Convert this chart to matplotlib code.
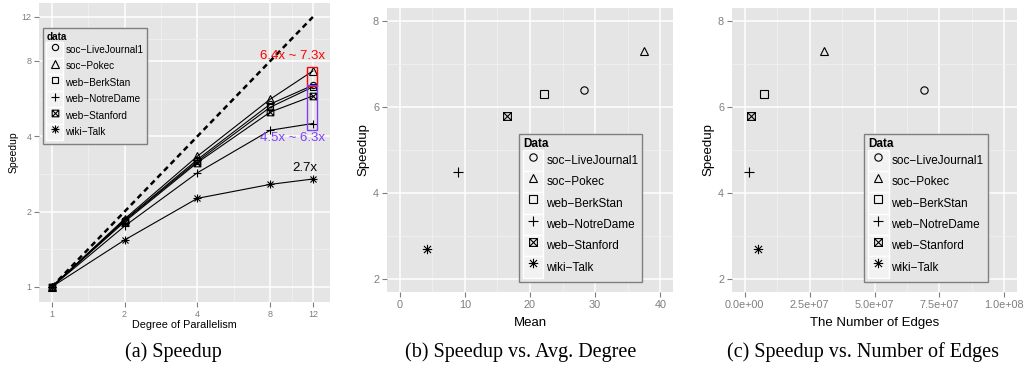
import matplotlib
matplotlib.use("Agg")
import matplotlib.pyplot as plt
import numpy as np
from matplotlib.path import Path
from matplotlib.lines import Line2D
from matplotlib.patches import Rectangle
from matplotlib.legend_handler import HandlerLine2D
from matplotlib.ticker import FixedLocator, FuncFormatter

plt.rcParams['font.family'] = ['Liberation Sans', 'DejaVu Sans']

# ---------------- data ----------------
datasets = ["soc-LiveJournal1", "soc-Pokec", "web-BerkStan", "web-NotreDame", "web-Stanford", "wiki-Talk"]
labels = ["soc\u2212LiveJournal1", "soc\u2212Pokec", "web\u2212BerkStan", "web\u2212NotreDame", "web\u2212Stanford", "wiki\u2212Talk"]
parallelism = [1, 2, 4, 8, 12]
speedup_lj = [1.0, 1.85, 3.23, 5.38, 6.4]
speedup_pokec = [1.0, 1.87, 3.33, 5.63, 7.3]
speedup_berk = [1.0, 1.84, 3.18, 5.23, 6.3]
speedup_notre = [1.0, 1.75, 2.86, 4.23, 4.5]
speedup_stan = [1.0, 1.82, 3.14, 5.0, 5.8]
speedup_wiki = [1.0, 1.54, 2.26, 2.57, 2.7]
speedups = [speedup_lj, speedup_pokec, speedup_berk, speedup_notre, speedup_stan, speedup_wiki]
ideal = [1, 12]

avg_degree = [28.3, 37.5, 22.2, 9.0, 16.4, 4.2]
num_edges = [6.9e7, 3.06e7, 7.6e6, 1.5e6, 2.31e6, 5.02e6]
final_speedup = [6.4, 7.3, 6.3, 4.5, 5.8, 2.7]

# annotations (panel a)
red_range = (6.4, 7.3)
blue_range = (4.5, 6.3)
wiki_final = 2.7

# ---------------- markers ----------------
boxx = Path([(-1, -1), (1, -1), (1, 1), (-1, 1), (-1, -1), (-1, -1), (1, 1), (-1, 1), (1, -1)],
            [Path.MOVETO, Path.LINETO, Path.LINETO, Path.LINETO, Path.CLOSEPOLY,
             Path.MOVETO, Path.LINETO, Path.MOVETO, Path.LINETO])
d = 0.75
aster = Path([(-1, 0), (1, 0), (0, -1), (0, 1), (-d, -d), (d, d), (-d, d), (d, -d)],
             [Path.MOVETO, Path.LINETO] * 4)
markers = ['o', '^', 's', '+', boxx, aster]
msize = [5.3, 6.0, 5.6, 7.5, 5.6, 6.8]

BG = '#E5E5E5'
GRAY = '#7F7F7F'
PURPLE = '#7F3FF5'

class KeyHandler(HandlerLine2D):
    def create_artists(self, legend, orig_handle, xdescent, ydescent, width, height, fontsize, trans):
        rect = Rectangle((-xdescent, -ydescent), width, height, facecolor='#F2F2F2',
                         edgecolor='white', lw=1.0, transform=trans)
        arts = super().create_artists(legend, orig_handle, xdescent, ydescent, width, height, fontsize, trans)
        return [rect] + arts

def style_axes(ax, tick_fs):
    ax.set_facecolor(BG)
    for s in ax.spines.values():
        s.set_visible(False)
    ax.set_axisbelow(True)
    ax.grid(which='major', color='white', lw=1.1)
    ax.grid(which='minor', color='#F2F2F2', lw=0.5)
    ax.tick_params(which='major', color=GRAY, labelcolor=GRAY, length=3.5, width=0.8,
                   labelsize=tick_fs, pad=2)
    ax.tick_params(which='minor', length=0)

def add_legend(ax, title, fs, anchor, loc, scale=1.0, hlen=1.7, hh=2.3):
    handles = [Line2D([], [], ls='none', marker=m, ms=s * scale, mfc='none', mec='black', mew=0.8)
               for m, s in zip(markers, msize)]
    leg = ax.legend(handles, labels, title=title, loc=loc, bbox_to_anchor=anchor,
                    fontsize=fs, title_fontproperties={'weight': 'bold', 'size': fs},
                    frameon=True, fancybox=False, numpoints=1, labelspacing=0.0,
                    handlelength=hlen, handleheight=hh, handletextpad=0.25,
                    borderpad=0.35, borderaxespad=0.0,
                    handler_map={Line2D: KeyHandler()})
    leg._legend_box.align = 'left'
    fr = leg.get_frame()
    fr.set_facecolor(BG)
    fr.set_edgecolor(GRAY)
    fr.set_linewidth(1.0)
    fr.set_alpha(1)
    return leg

fig = plt.figure(figsize=(10.29, 3.73), dpi=100)

# ---------------- panel (a) ----------------
axa = fig.add_axes([39 / 1029, 71 / 373, 291 / 1029, 299 / 373])
axa.set_xscale('log', base=2)
axa.set_yscale('log', base=2)
axa.set_xlim(2 ** -0.174, 2 ** 3.82)
axa.set_ylim(2 ** -0.2, 2 ** 3.77)
style_axes(axa, 6.5)
axa.xaxis.set_major_locator(FixedLocator(parallelism))
axa.yaxis.set_major_locator(FixedLocator(parallelism))
axa.xaxis.set_major_formatter(FuncFormatter(lambda v, p: f"{v:g}"))
axa.yaxis.set_major_formatter(FuncFormatter(lambda v, p: f"{v:g}"))
mids = [np.sqrt(a * b) for a, b in zip(parallelism[:-1], parallelism[1:])]
axa.xaxis.set_minor_locator(FixedLocator(mids))
axa.yaxis.set_minor_locator(FixedLocator(mids))
axa.xaxis.set_minor_formatter(FuncFormatter(lambda v, p: ""))
axa.yaxis.set_minor_formatter(FuncFormatter(lambda v, p: ""))

axa.plot(ideal, ideal, color='black', ls=(0, (2.2, 1.6)), lw=1.8, zorder=2)
for sp, m, s in zip(speedups, markers, msize):
    axa.plot(parallelism, sp, color='black', lw=0.8, marker=m, ms=s * 0.85,
             mfc='none', mec='black', mew=0.8, zorder=3)

xr = (11.4, 12.45)
axa.add_patch(Rectangle((xr[0], red_range[0] * 0.99), xr[1] - xr[0], red_range[1] * 1.04 - red_range[0] * 0.99,
                        facecolor='none', edgecolor='#FF0000', lw=1.0, zorder=4))
axa.add_patch(Rectangle((xr[0], blue_range[0] * 0.94), xr[1] - xr[0], blue_range[1] * 1.02 - blue_range[0] * 0.94,
                        facecolor='none', edgecolor=PURPLE, lw=1.0, zorder=4))
axa.text(9.9, 8.4, f"{red_range[0]}x ~ {red_range[1]}x", color='#FF0000', fontsize=9.5,
         ha='center', va='center', zorder=5)
axa.text(9.9, 3.93, f"{blue_range[0]}x ~ {blue_range[1]}x", color=PURPLE, fontsize=9.5,
         ha='center', va='center', zorder=5)
axa.text(11.1, 3.0, f"{wiki_final}x", color='black', fontsize=9.5, ha='center', va='center', zorder=5)

axa.set_xlabel("Degree of Parallelism", fontsize=7.8, labelpad=1)
axa.set_ylabel("Speedup", fontsize=7.5, labelpad=2)
add_legend(axa, "data", 7.2, (0.0137, 0.916), 'upper left', scale=0.85, hlen=1.65, hh=2.15)

# ---------------- panel (b) ----------------
axb = fig.add_axes([386.7 / 1029, 81 / 373, 286.6 / 1029, 284 / 373])
axb.set_xlim(-2, 42)
axb.set_ylim(1.7, 8.3)
style_axes(axb, 7.8)
axb.xaxis.set_major_locator(FixedLocator([0, 10, 20, 30, 40]))
axb.xaxis.set_minor_locator(FixedLocator([5, 15, 25, 35]))
axb.yaxis.set_major_locator(FixedLocator([2, 4, 6, 8]))
axb.yaxis.set_minor_locator(FixedLocator([3, 5, 7]))
for x, y, m, s in zip(avg_degree, final_speedup, markers, msize):
    axb.plot([x], [y], ls='none', marker=m, ms=s, mfc='none', mec='black', mew=0.8)
axb.set_xlabel("Mean", fontsize=9.5, labelpad=5)
axb.set_ylabel("Speedup", fontsize=9.5, labelpad=2.5)
add_legend(axb, "Data", 8.5, (0.4616, 0.0363), 'lower left', hh=2.4)

# ---------------- panel (c) ----------------
axc = fig.add_axes([731.7 / 1029, 81 / 373, 285.6 / 1029, 284 / 373])
axc.set_xlim(-5e6, 1.05e8)
axc.set_ylim(1.7, 8.3)
style_axes(axc, 7.8)
axc.xaxis.set_major_locator(FixedLocator([0, 2.5e7, 5e7, 7.5e7, 1e8]))
axc.xaxis.set_minor_locator(FixedLocator([1.25e7, 3.75e7, 6.25e7, 8.75e7]))
axc.xaxis.set_major_formatter(FuncFormatter(lambda v, p: f"{v:.1e}"))
axc.yaxis.set_major_locator(FixedLocator([2, 4, 6, 8]))
axc.yaxis.set_minor_locator(FixedLocator([3, 5, 7]))
for x, y, m, s in zip(num_edges, final_speedup, markers, msize):
    axc.plot([x], [y], ls='none', marker=m, ms=s, mfc='none', mec='black', mew=0.8)
axc.set_xlabel("The Number of Edges", fontsize=9.5, labelpad=5)
axc.set_ylabel("Speedup", fontsize=9.5, labelpad=2.5)
add_legend(axc, "Data", 8.5, (0.4643, 0.0363), 'lower left', hh=2.4)

# ---------------- captions ----------------
cap_kw = dict(fontsize=14.5, family=['Liberation Serif', 'DejaVu Serif'], ha='center', va='center')
fig.text(173.5 / 1029, 1 - 352 / 373, "(a) Speedup", **cap_kw)
fig.text(521 / 1029, 1 - 352 / 373, "(b) Speedup vs. Avg. Degree", **cap_kw)
fig.text(863 / 1029, 1 - 352 / 373, "(c) Speedup vs. Number of Edges", **cap_kw)

fig.savefig("out.png", dpi=100)
